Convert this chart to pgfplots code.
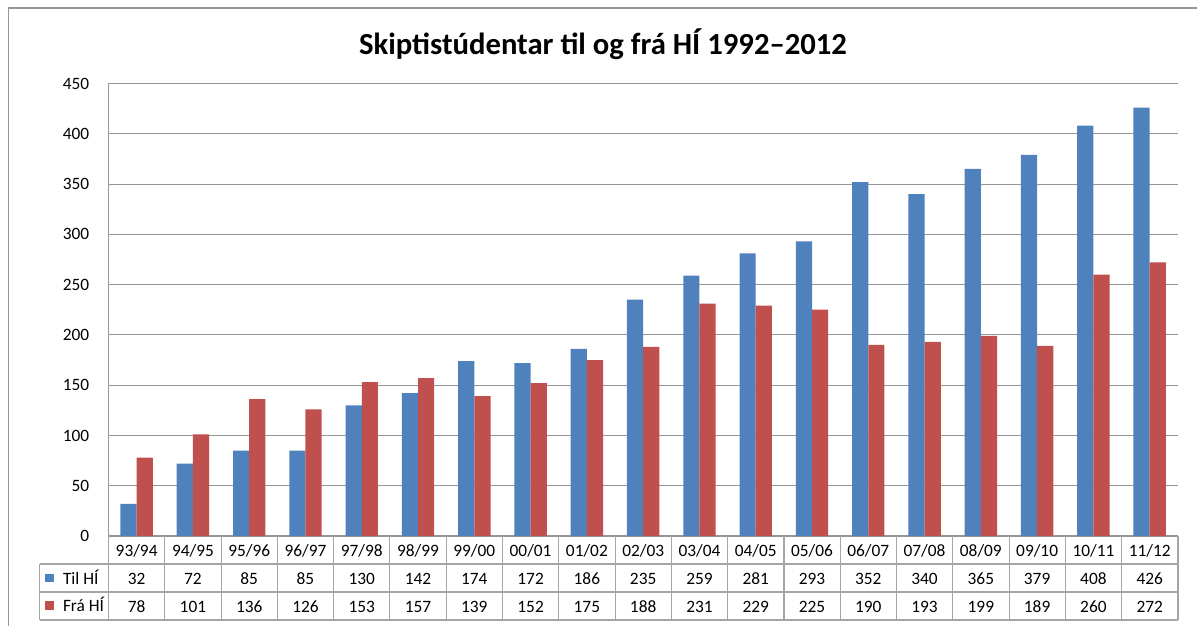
\documentclass[border=0pt]{standalone}
\usepackage{pgfplots}
\pgfplotsset{compat=1.18}
\usepackage{pgfplotstable}
\usepackage{fontspec}
\setmainfont{Carlito}

\definecolor{tilblue}{RGB}{79,129,189}
\definecolor{frared}{RGB}{192,80,77}
\definecolor{gridgray}{RGB}{150,150,150}
\definecolor{tablegray}{RGB}{165,165,165}

% one row per academic year
\pgfplotstableread[col sep=space]{
idx cat   til fra
0   93/94 32  78
1   94/95 72  101
2   95/96 85  136
3   96/97 85  126
4   97/98 130 153
5   98/99 142 157
6   99/00 174 139
7   00/01 172 152
8   01/02 186 175
9   02/03 235 188
10  03/04 259 231
11  04/05 281 229
12  05/06 293 225
13  06/07 352 190
14  07/08 340 193
15  08/09 365 199
16  09/10 379 189
17  10/11 408 260
18  11/12 426 272
}\data

\begin{document}
\begin{tikzpicture}[x=0.75pt,y=-0.75pt]
\useasboundingbox (0,0) rectangle (1197,626);
% chart frame (cropped on right and bottom)
\draw[gridgray, line width=0.9pt] (8.5,626) -- (8.5,8) -- (1197,8);
\node[font=\fontsize{23}{27}\selectfont\bfseries] at (603,44) {Skiptistúdentar til og frá HÍ 1992–2012};

\begin{axis}[
    at={(81.375pt,-402pt)}, anchor=south west,
    scale only axis,
    width=802pt, height=339.4pt,
    ybar=0pt, bar width=12.15pt,
    xmin=-0.5, xmax=18.5,
    ymin=0, ymax=450,
    ytick={0,50,...,450},
    xtick=data,
    axis lines*=left,
    axis line style={gridgray, line width=0.8pt},
    ymajorgrids,
    grid style={gridgray, line width=0.8pt},
    major tick length=0pt,
    /pgf/number format/assume math mode=true,
    yticklabel style={font=\fontsize{13}{15}\selectfont, xshift=-11pt},
    % tick labels hold the data table: year, Til HI, Fra HI
    xticklabel style={font=\fontsize{13}{21}\selectfont, anchor=base, yshift=-57.5pt, align=center, inner sep=0pt},
    xticklabel={\pgfplotstablegetelem{\ticknum}{cat}\of\data\pgfplotsretval\\
      \pgfplotstablegetelem{\ticknum}{til}\of\data\pgfplotsretval\\
      \pgfplotstablegetelem{\ticknum}{fra}\of\data\pgfplotsretval},
    legend style={at={(-0.0595,-0.0686)}, anchor=north west, draw=none, fill=none,
                  font=\fontsize{13}{15}\selectfont, row sep=4pt, column sep=5pt,
                  inner sep=0pt, cells={anchor=west}},
    legend image code/.code={\path[#1, draw=none] (0pt,-3.2pt) rectangle (6.4pt,3.2pt);},
    legend cell align=left,
    clip=false,
]
\addplot[fill=tilblue, draw=none] table[x=idx, y=til] {\data};
\addlegendentry{Til HÍ}
\addplot[fill=frared, draw=none] table[x=idx, y=fra] {\data};
\addlegendentry{Frá HÍ}
\end{axis}

% data table grid
\begin{scope}[tablegray, line width=0.8pt]
\draw (39.5,564) -- (1178,564);
\draw (39.5,592) -- (1178,592);
\draw (39.5,620) -- (1178,620);
\draw (39.5,564) -- (39.5,620);
\foreach \i in {0,...,19}
  \draw ({108.5+\i*56.29},536) -- ({108.5+\i*56.29},620);
\end{scope}
\end{tikzpicture}
\end{document}
